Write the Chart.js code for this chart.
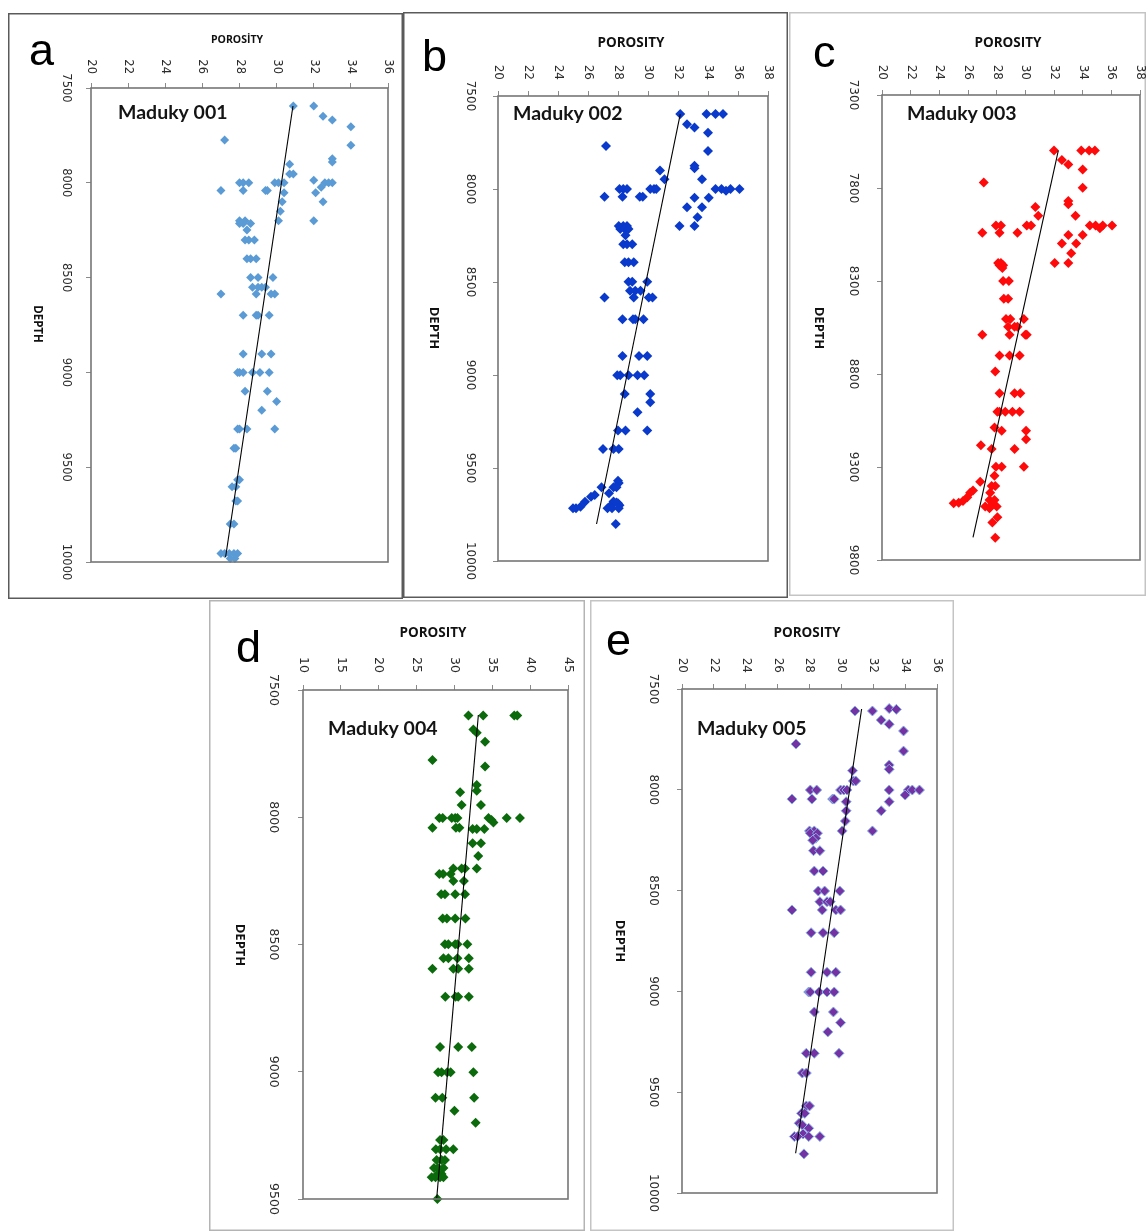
<!DOCTYPE html>
<html>
<head>
<meta charset="utf-8">
<script src="https://cdn.jsdelivr.net/npm/chart.js@4.4.1/dist/chart.umd.min.js"></script>
<style>
  body { margin: 0; background: #fff; }
  #wrap { position: relative; width: 1146px; height: 1231px; overflow: hidden; }
  #wrap canvas { position: absolute; }
</style>
</head>
<body>
<div id="wrap"></div>
<script>
// tick labels
const porTicksA = [20, 22, 24, 26, 28, 30, 32, 34, 36]
const depTicksA = [7500, 8000, 8500, 9000, 9500, 10000]
const porTicksB = [20, 22, 24, 26, 28, 30, 32, 34, 36, 38]
const depTicksB = [7500, 8000, 8500, 9000, 9500, 10000]
const porTicksC = [20, 22, 24, 26, 28, 30, 32, 34, 36, 38]
const depTicksC = [7300, 7800, 8300, 8800, 9300, 9800]
const porTicksD = [10, 15, 20, 25, 30, 35, 40, 45]
const depTicksD = [7500, 8000, 8500, 9000, 9500]
const porTicksE = [20, 22, 24, 26, 28, 30, 32, 34, 36]
const depTicksE = [7500, 8000, 8500, 9000, 9500, 10000]

// Maduky 001
const porA = [
  30.9, 32.0, 32.5, 33.0, 34.0, 27.2, 34.0, 33.0, 33.0, 30.7,
  30.7, 30.9, 32.0, 28.0, 28.2, 28.5, 29.9, 30.1, 30.4, 32.6,
  32.8, 33.0, 32.4, 27.0, 28.2, 29.4, 29.5, 30.4, 32.1, 30.3,
  32.5, 30.2, 28.0, 28.3, 30.1, 32.0, 28.0, 28.2, 28.6, 28.4,
  28.3, 28.5, 28.8, 28.4, 28.6, 28.9, 28.6, 29.0, 29.8, 28.7,
  29.0, 29.2, 29.4, 27.0, 28.9, 29.7, 29.9, 28.2, 28.9, 29.0,
  29.6, 28.2, 29.2, 29.7, 27.9, 28.0, 28.2, 28.7, 29.1, 29.6,
  28.3, 29.5, 30.0, 29.2, 27.9, 28.0, 28.4, 29.9, 27.7, 27.8,
  27.9, 28.0, 27.6, 27.8, 27.8, 27.9, 27.5, 27.7, 27.0, 27.2,
  27.45, 27.7, 27.9, 27.5, 27.75]
const depA = [
  7595, 7595, 7649, 7669, 7704, 7774, 7802, 7873, 7890, 7902,
  7954, 7954, 7987, 8000, 8000, 8000, 8000, 8000, 8000, 8000,
  8000, 8000, 8024, 8041, 8041, 8041, 8041, 8052, 8052, 8100,
  8100, 8150, 8200, 8200, 8200, 8200, 8215, 8215, 8215, 8249,
  8302, 8302, 8302, 8400, 8400, 8400, 8499, 8499, 8499, 8551,
  8551, 8551, 8551, 8586, 8586, 8586, 8586, 8699, 8699, 8699,
  8699, 8903, 8903, 8903, 9001, 9001, 9001, 9001, 9001, 9001,
  9100, 9100, 9154, 9200, 9298, 9298, 9298, 9298, 9400, 9400,
  9566, 9566, 9603, 9603, 9678, 9678, 9800, 9800, 9955, 9955,
  9955, 9955, 9955, 9982, 9982]
const trendPorA = [30.88, 27.25]
const trendDepA = [7595, 9975]

// Maduky 002
const porB = [
  32.15, 33.9, 34.5, 35.0, 32.6, 33.1, 34.0, 27.2, 34.0, 33.1,
  33.1, 30.8, 31.1, 33.6, 28.1, 28.35, 28.6, 30.15, 30.4, 30.55,
  34.5, 34.9, 35.5, 36.1, 35.2, 27.1, 28.3, 29.45, 29.65, 33.1,
  34.05, 32.6, 33.6, 33.3, 32.1, 33.1, 28.05, 28.35, 28.6, 28.15,
  28.45, 28.7, 28.5, 28.35, 28.6, 28.95, 28.45, 28.7, 29.05, 28.7,
  28.95, 29.95, 28.8, 29.15, 29.5, 27.1, 29.05, 30.05, 30.3, 28.3,
  29.0, 29.15, 29.7, 28.3, 29.4, 29.95, 27.95, 28.15, 28.7, 29.3,
  29.75, 28.45, 30.15, 30.15, 29.3, 28.0, 28.5, 29.95, 27.0, 27.7,
  28.05, 28.0, 28.05, 26.9, 27.7, 27.9, 27.4, 26.45, 26.2, 25.8,
  27.7, 28.0, 28.1, 27.6, 27.9, 25.5, 25.2, 25.0, 27.3, 27.6,
  28.05, 27.85]
const depB = [
  7597, 7597, 7597, 7597, 7652, 7670, 7697, 7769, 7796, 7875,
  7889, 7901, 7948, 7948, 8000, 8000, 8000, 8000, 8000, 8000,
  8000, 8000, 8000, 8000, 8010, 8041, 8041, 8041, 8041, 8047,
  8047, 8098, 8098, 8152, 8199, 8199, 8199, 8199, 8199, 8215,
  8215, 8215, 8249, 8297, 8297, 8297, 8394, 8394, 8394, 8498,
  8498, 8498, 8547, 8547, 8547, 8584, 8584, 8584, 8584, 8700,
  8700, 8700, 8700, 8898, 8898, 8898, 9002, 9002, 9002, 9002,
  9002, 9102, 9102, 9147, 9200, 9299, 9299, 9299, 9398, 9398,
  9398, 9568, 9580, 9604, 9604, 9604, 9636, 9645, 9654, 9681,
  9680, 9690, 9700, 9695, 9685, 9708, 9717, 9717, 9717, 9717,
  9717, 9801]
const trendPorB = [32.15, 26.57]
const trendDepB = [7597, 9801]

// Maduky 003
const porC = [
  32.0, 33.9, 34.45, 34.85, 32.55, 33.0, 34.0, 27.1, 34.0, 33.0,
  33.0, 30.7, 30.9, 33.5, 27.95, 28.3, 30.1, 30.4, 34.5, 34.9,
  35.4, 36.05, 35.2, 27.0, 28.2, 29.45, 33.0, 34.0, 32.55, 33.55,
  33.2, 32.05, 33.0, 28.1, 28.3, 28.2, 28.45, 28.4, 28.45, 28.85,
  28.5, 28.8, 28.65, 28.95, 29.9, 28.8, 29.25, 29.45, 27.0, 28.9,
  30.0, 30.1, 28.2, 28.9, 29.6, 27.9, 28.2, 29.25, 29.65, 28.05,
  28.2, 28.6, 29.1, 29.6, 27.85, 28.35, 30.05, 30.05, 26.9, 27.65,
  29.25, 27.95, 28.35, 29.9, 27.85, 26.85, 27.65, 27.9, 26.35, 26.15,
  27.55, 25.95, 27.5, 27.85, 25.65, 25.35, 25.0, 27.7, 27.2, 28.0,
  27.5, 28.05, 27.7, 27.9]
const depC = [
  7599, 7599, 7599, 7599, 7649, 7673, 7700, 7771, 7798, 7870,
  7888, 7902, 7949, 7949, 8001, 8001, 8001, 8001, 8001, 8001,
  8001, 8001, 8016, 8040, 8040, 8040, 8053, 8053, 8099, 8099,
  8151, 8203, 8203, 8203, 8203, 8215, 8215, 8230, 8300, 8300,
  8395, 8395, 8504, 8504, 8504, 8546, 8546, 8546, 8589, 8589,
  8589, 8589, 8701, 8701, 8701, 8786, 8904, 8904, 8904, 9003,
  9003, 9003, 9003, 9003, 9087, 9105, 9105, 9151, 9183, 9203,
  9203, 9298, 9298, 9298, 9347, 9379, 9402, 9402, 9427, 9438,
  9438, 9463, 9477, 9477, 9483, 9492, 9495, 9499, 9513, 9513,
  9522, 9570, 9599, 9680]
const trendPorC = [32.3, 26.35]
const trendDepC = [7599, 9678]

// Maduky 004
const porD = [
  31.85, 33.8, 37.9, 38.3, 32.5, 32.95, 34.05, 27.1, 34.05, 32.95,
  32.95, 30.75, 30.95, 33.5, 28.0, 28.45, 29.65, 30.1, 30.4, 36.9,
  38.65, 34.5, 34.9, 35.15, 27.1, 30.2, 30.65, 32.4, 32.95, 33.95,
  32.4, 33.5, 33.15, 29.85, 30.95, 31.4, 32.95, 28.0, 28.5, 29.5,
  29.85, 31.25, 28.25, 28.75, 30.1, 31.4, 28.45, 29.0, 30.1, 31.45,
  28.75, 29.2, 30.1, 30.4, 31.7, 28.55, 29.2, 30.4, 31.9, 27.1,
  29.85, 30.5, 31.9, 28.8, 30.15, 30.5, 31.9, 28.1, 30.5, 32.3,
  27.85, 28.3, 29.05, 29.5, 32.5, 27.5, 28.4, 32.6, 30.0, 32.8,
  28.1, 28.55, 27.55, 28.1, 28.9, 29.85, 27.65, 28.3, 28.75, 27.3,
  27.85, 28.55, 27.8, 28.3, 27.0, 27.5, 28.1, 28.55, 27.75]
const depD = [
  7600, 7600, 7600, 7600, 7655, 7668, 7703, 7775, 7801, 7873,
  7896, 7902, 7952, 7952, 8003, 8003, 8003, 8003, 8003, 8003,
  8003, 8003, 8011, 8021, 8041, 8041, 8041, 8046, 8046, 8046,
  8102, 8102, 8152, 8201, 8201, 8201, 8201, 8223, 8223, 8223,
  8250, 8250, 8303, 8303, 8303, 8303, 8398, 8398, 8398, 8398,
  8499, 8499, 8499, 8499, 8499, 8554, 8554, 8554, 8554, 8595,
  8595, 8595, 8595, 8705, 8705, 8705, 8705, 8903, 8903, 8903,
  9002, 9002, 9002, 9002, 9002, 9102, 9102, 9102, 9153, 9200,
  9268, 9268, 9305, 9305, 9305, 9305, 9347, 9347, 9347, 9378,
  9378, 9378, 9402, 9402, 9415, 9415, 9415, 9415, 9500]
const trendPorD = [33.16, 27.66]
const trendDepD = [7598, 9497]

// Maduky 005
const porE = [
  30.85, 31.95, 33.0, 33.45, 32.5, 33.0, 33.9, 27.15, 33.9, 33.0,
  33.0, 30.7, 30.75, 30.9, 28.05, 28.45, 29.95, 30.15, 30.35, 33.0,
  34.2, 34.45, 34.9, 34.0, 26.9, 28.15, 29.45, 29.55, 30.3, 33.0,
  30.3, 32.5, 30.25, 30.05, 31.95, 28.0, 28.3, 28.05, 28.5, 28.4,
  28.2, 28.25, 28.65, 28.3, 28.85, 28.55, 28.95, 29.9, 28.65, 29.1,
  29.3, 26.9, 28.8, 29.65, 29.95, 28.1, 28.85, 29.55, 28.1, 29.1,
  29.65, 27.95, 28.05, 28.6, 29.1, 29.55, 28.3, 29.5, 29.95, 29.15,
  27.8, 28.3, 29.85, 27.55, 27.8, 27.8, 28.0, 27.5, 27.7, 27.35,
  27.55, 27.95, 27.6, 27.05, 27.25, 27.95, 28.65, 27.65]
const depE = [
  7609, 7609, 7597, 7601, 7654, 7675, 7708, 7773, 7808, 7877,
  7898, 7905, 7956, 7956, 8001, 8001, 8001, 8001, 8001, 8001,
  8001, 8001, 8001, 8026, 8046, 8046, 8046, 8046, 8059, 8059,
  8104, 8104, 8155, 8204, 8204, 8204, 8204, 8215, 8215, 8240,
  8250, 8302, 8302, 8403, 8403, 8502, 8502, 8502, 8555, 8555,
  8555, 8596, 8596, 8596, 8596, 8709, 8709, 8709, 8905, 8905,
  8905, 9003, 9003, 9003, 9003, 9003, 9102, 9102, 9155, 9201,
  9307, 9307, 9307, 9405, 9405, 9568, 9568, 9605, 9605, 9654,
  9663, 9679, 9707, 9720, 9720, 9720, 9720, 9806]
const trendPorE = [31.27, 27.13]
const trendDepE = [7599, 9803]

// page layout of each panel (frame box, plot box, text spots)
const panels = [
  { frame: [8, 13, 403, 599], frameColor: '#5a5a5a', plot: [91, 88, 388, 562],
    xt: porTicksA, yt: depTicksA, por: porA, dep: depA, tp: trendPorA, td: trendDepA,
    color: '#5b9bd5', edge: null, r: 4.5,
    letter: 'a', letterPos: [29, 65], title: 'Maduky 001', titlePos: [118, 119],
    xTitle: 'POROSİTY', xTitlePos: [237, 40], xTitleFont: 'bold 10.5px "Open Sans"',
    depthPos: [37, 324], depthFont: 'bold 11.5px "Open Sans"',
    xGap: 14, yGap: 25, tickFont: '11.5px "DejaVu Sans"' },
  { frame: [403, 12, 788, 598], frameColor: '#5a5a5a', plot: [498, 96, 768, 561],
    xt: porTicksB, yt: depTicksB, por: porB, dep: depB, tp: trendPorB, td: trendDepB,
    color: '#0a3acb', edge: null, r: 5,
    letter: 'b', letterPos: [422, 71], title: 'Maduky 002', titlePos: [513, 120],
    xTitle: 'POROSITY', xTitlePos: [631, 43], xTitleFont: 'bold 13.5px "Open Sans"',
    depthPos: [434, 328], depthFont: 'bold 13px "Open Sans"',
    xGap: 16, yGap: 28, tickFont: '12px "DejaVu Sans"' },
  { frame: [789, 12, 1146, 596], frameColor: '#c4c4c4', plot: [882, 95, 1140, 560],
    xt: porTicksC, yt: depTicksC, por: porC, dep: depC, tp: trendPorC, td: trendDepC,
    color: '#ff0a0a', edge: null, r: 5,
    letter: 'c', letterPos: [813, 67], title: 'Maduky 003', titlePos: [907, 120],
    xTitle: 'POROSITY', xTitlePos: [1008, 43], xTitleFont: 'bold 13.5px "Open Sans"',
    depthPos: [819, 328], depthFont: 'bold 13px "Open Sans"',
    xGap: 15, yGap: 29, tickFont: '12px "DejaVu Sans"' },
  { frame: [209, 600, 585, 1231], frameColor: '#b4b4b4', plot: [303, 690, 568, 1199],
    xt: porTicksD, yt: depTicksD, por: porD, dep: depD, tp: trendPorD, td: trendDepD,
    color: '#0b6a0b', edge: null, r: 5,
    letter: 'd', letterPos: [236, 662], title: 'Maduky 004', titlePos: [328, 735],
    xTitle: 'POROSITY', xTitlePos: [433, 633], xTitleFont: 'bold 13.5px "Open Sans"',
    depthPos: [240, 945], depthFont: 'bold 13px "Open Sans"',
    xGap: 17, yGap: 30, tickFont: '12.5px "DejaVu Sans"' },
  { frame: [590, 600, 954, 1231], frameColor: '#c4c4c4', plot: [682, 689, 937, 1193],
    xt: porTicksE, yt: depTicksE, por: porE, dep: depE, tp: trendPorE, td: trendDepE,
    color: '#7432a2', edge: '#86b3e8', r: 5,
    letter: 'e', letterPos: [606, 655], title: 'Maduky 005', titlePos: [697, 735],
    xTitle: 'POROSITY', xTitlePos: [807, 633], xTitleFont: 'bold 13.5px "Open Sans"',
    depthPos: [620, 941], depthFont: 'bold 13px "Open Sans"',
    xGap: 16, yGap: 29, tickFont: '12px "DejaVu Sans"' }
]

const wrap = document.getElementById('wrap')
const TL = 5 // tick mark length

function makePanel(p) {
  const fx = p.frame[0], fy = p.frame[1]
  const w = p.frame[2] - fx, h = p.frame[3] - fy
  const cv = document.createElement('canvas')
  cv.width = w; cv.height = h
  cv.style.left = fx + 'px'; cv.style.top = fy + 'px'
  cv.style.width = w + 'px'; cv.style.height = h + 'px'
  wrap.appendChild(cv)

  const L = p.plot[0] - fx, T = p.plot[1] - fy, R = p.plot[2] - fx, B = p.plot[3] - fy

  const decor = {
    id: 'decor',
    afterDraw(chart) {
      const ctx = chart.ctx, a = chart.chartArea
      ctx.save()
      // outer frame
      ctx.strokeStyle = p.frameColor; ctx.lineWidth = 1.5
      ctx.strokeRect(0.75, 0.75, w - 1.5, h - 1.5)
      // plot box
      ctx.strokeStyle = '#767676'; ctx.lineWidth = 1.6
      ctx.strokeRect(a.left, a.top, a.right - a.left, a.bottom - a.top)

      // tick labels, turned clockwise
      ctx.fillStyle = '#2b2b2b'; ctx.font = p.tickFont
      const xs = chart.scales.x, ys = chart.scales.y
      xs.ticks.forEach(t => {
        ctx.save()
        ctx.translate(xs.getPixelForValue(t.value), a.top - p.xGap)
        ctx.rotate(Math.PI / 2)
        ctx.textAlign = 'right'; ctx.textBaseline = 'middle'
        ctx.fillText(String(t.value), 0, 0)
        ctx.restore()
      })
      ys.ticks.forEach(t => {
        ctx.save()
        ctx.translate(a.left - p.yGap, ys.getPixelForValue(t.value))
        ctx.rotate(Math.PI / 2)
        ctx.textAlign = 'center'; ctx.textBaseline = 'middle'
        ctx.fillText(String(t.value), 0, 0)
        ctx.restore()
      })

      // axis titles
      ctx.fillStyle = '#111'
      ctx.font = p.xTitleFont
      ctx.textAlign = 'center'; ctx.textBaseline = 'middle'
      ctx.fillText(p.xTitle, p.xTitlePos[0] - fx, p.xTitlePos[1] - fy)
      ctx.save()
      ctx.translate(p.depthPos[0] - fx, p.depthPos[1] - fy)
      ctx.rotate(Math.PI / 2)
      ctx.font = p.depthFont
      ctx.fillText('DEPTH', 0, 0)
      ctx.restore()

      // panel letter and well name
      ctx.textAlign = 'left'; ctx.textBaseline = 'alphabetic'
      ctx.fillStyle = '#000'
      ctx.font = '45px "Liberation Sans"'
      ctx.fillText(p.letter, p.letterPos[0] - fx, p.letterPos[1] - fy)
      ctx.fillStyle = '#141414'
      ctx.font = 'bold 19.5px Lato'
      ctx.fillText(p.title, p.titlePos[0] - fx, p.titlePos[1] - fy)
      ctx.restore()
    }
  }

  new Chart(cv, {
    type: 'scatter',
    data: {
      datasets: [
        { // trend line
          data: p.tp.map((v, i) => ({ x: v, y: p.td[i] })),
          showLine: true, borderColor: '#000', borderWidth: 1.1,
          pointRadius: 0, fill: false, clip: false
        },
        {
          data: p.por.map((v, i) => ({ x: v, y: p.dep[i] })),
          pointStyle: 'rectRot', pointRadius: p.r, pointHoverRadius: p.r,
          backgroundColor: p.color,
          borderColor: p.edge || p.color, borderWidth: p.edge ? 1 : 0,
          clip: false
        }
      ]
    },
    options: {
      responsive: false, animation: false, devicePixelRatio: 1,
      events: [],
      layout: { padding: { left: L - TL, top: T - TL, right: w - R, bottom: h - B } },
      plugins: { legend: { display: false }, tooltip: { enabled: false } },
      scales: {
        x: {
          type: 'linear', position: 'top',
          min: p.xt[0], max: p.xt[p.xt.length - 1],
          afterBuildTicks: s => { s.ticks = p.xt.map(v => ({ value: v })) },
          afterFit: s => { s.height = TL },
          ticks: { display: false },
          grid: { drawOnChartArea: false, drawTicks: true, tickLength: TL, color: '#8a8a8a' },
          border: { display: false }
        },
        y: {
          type: 'linear', position: 'left', reverse: true,
          min: p.yt[0], max: p.yt[p.yt.length - 1],
          afterBuildTicks: s => { s.ticks = p.yt.map(v => ({ value: v })) },
          afterFit: s => { s.width = TL },
          ticks: { display: false },
          grid: { drawOnChartArea: false, drawTicks: true, tickLength: TL, color: '#8a8a8a' },
          border: { display: false }
        }
      }
    },
    plugins: [decor]
  })
}

panels.forEach(makePanel)
</script>
</body>
</html>
